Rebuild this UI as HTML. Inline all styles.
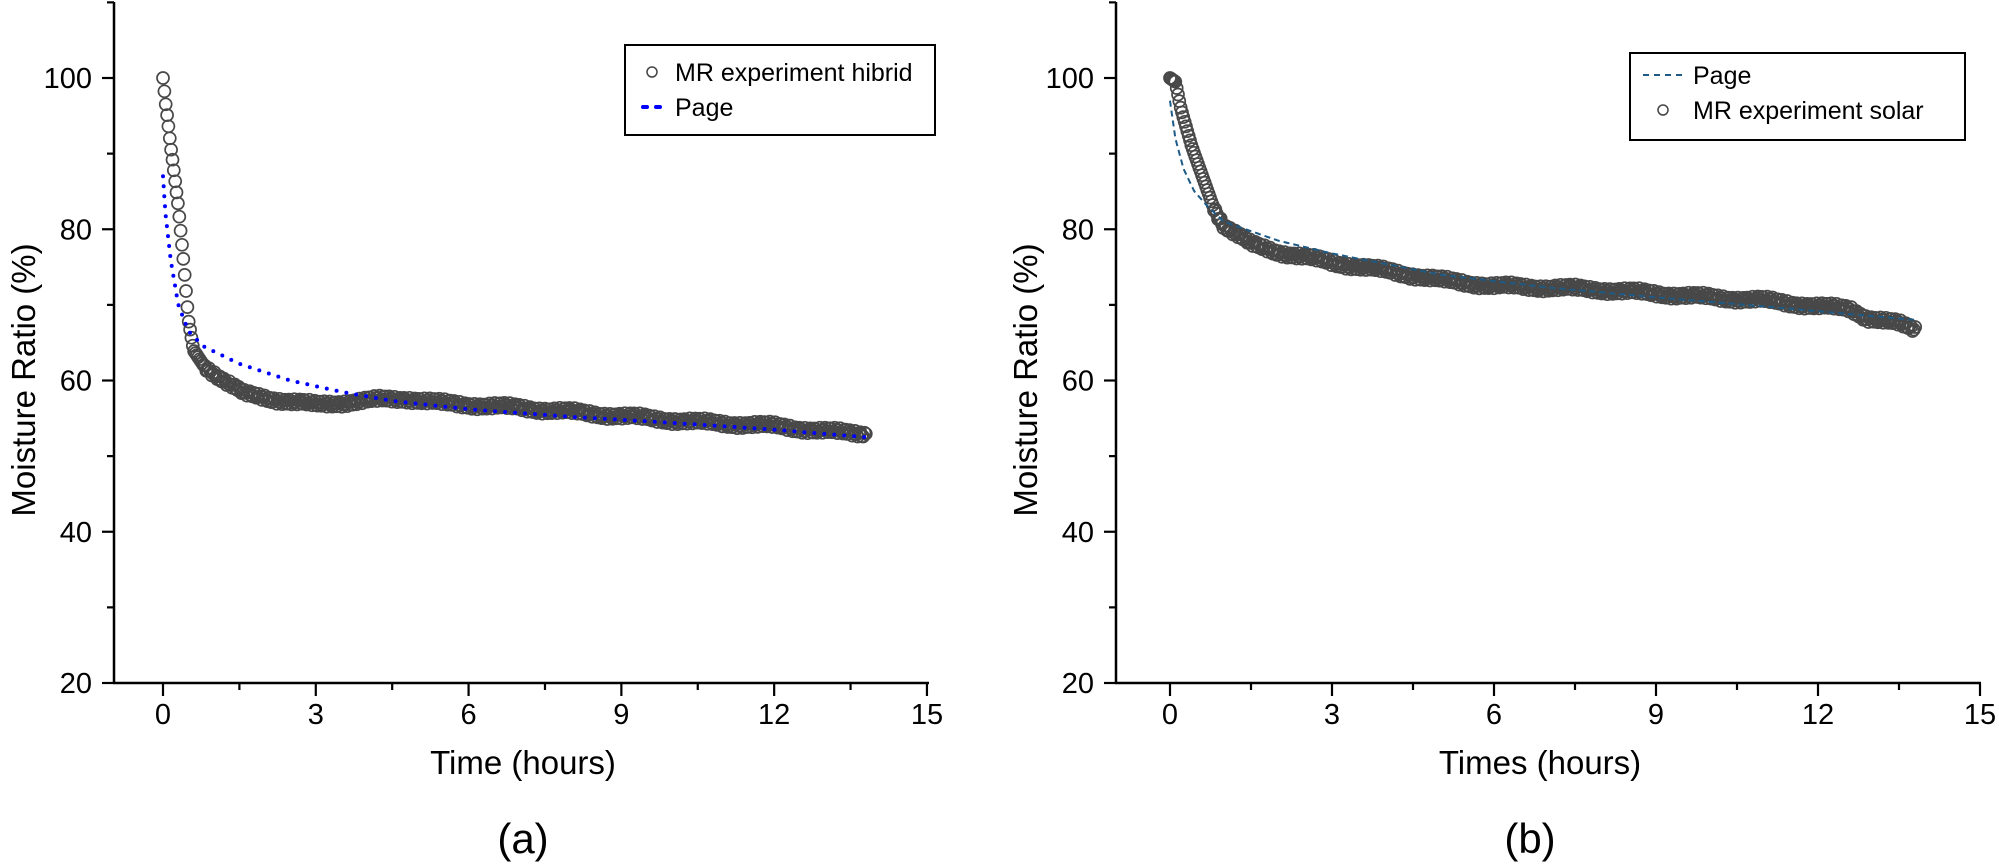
<!DOCTYPE html>
<html><head><meta charset="utf-8"><style>
body{margin:0;background:#fff;}
svg{display:block;font-family:"Liberation Sans",Arial,sans-serif;}
</style></head><body>
<svg id="s" width="1999" height="867" viewBox="0 0 1999 867" xmlns="http://www.w3.org/2000/svg">
<g stroke="#000" stroke-width="2.5" fill="none">
<line x1="114" y1="2" x2="114" y2="684"/>
<line x1="113" y1="683" x2="929" y2="683"/>
<line x1="1116" y1="2" x2="1116" y2="684"/>
<line x1="1115" y1="683" x2="1981" y2="683"/>
</g>
<g id="ticks" stroke="#000" stroke-width="2.2"></g>
<g id="lab" font-size="29" fill="#000" text-anchor="middle"></g>
<g id="data"></g>
<text x="523" y="774" font-size="33" text-anchor="middle">Time (hours)</text>
<text x="1540" y="774" font-size="33" text-anchor="middle">Times (hours)</text>
<text transform="translate(35,380) rotate(-90)" font-size="33" text-anchor="middle">Moisture Ratio (%)</text>
<text transform="translate(1037,380) rotate(-90)" font-size="33" text-anchor="middle">Moisture Ratio (%)</text>
<text x="523" y="853" font-size="42" text-anchor="middle">(a)</text>
<text x="1530" y="853" font-size="42" text-anchor="middle">(b)</text>
<rect x="625" y="45" width="310" height="90" fill="#fff" stroke="#000" stroke-width="2"/>
<circle cx="652" cy="72" r="5" fill="none" stroke="#444" stroke-width="1.5"/>
<text x="675" y="81" font-size="25">MR experiment hibrid</text>
<line x1="643" y1="107" x2="665" y2="107" stroke="#0000ff" stroke-width="4" stroke-dasharray="4 9" stroke-linecap="round"/>
<text x="675" y="116" font-size="25">Page</text>
<rect x="1630" y="53" width="335" height="87" fill="#fff" stroke="#000" stroke-width="2"/>
<line x1="1643" y1="75" x2="1682" y2="75" stroke="#1d5a85" stroke-width="2" stroke-dasharray="6 5"/>
<text x="1693" y="84" font-size="25">Page</text>
<circle cx="1663" cy="110" r="5" fill="none" stroke="#444" stroke-width="1.5"/>
<text x="1693" y="119" font-size="25">MR experiment solar</text>
</svg>
<script>
var NS="http://www.w3.org/2000/svg",T=document.getElementById('ticks'),L=document.getElementById('lab'),D=document.getElementById('data');
function el(p,t,a){var e=document.createElementNS(NS,t);for(var k in a)e.setAttribute(k,a[k]);p.appendChild(e);return e;}
function Y(v){return 683-(v-20)*7.5625;}
var plots=[{ax:114,x0:163,sx:50.93},{ax:1116,x0:1170,sx:54.0}];
plots.forEach(function(p){
 for(var v=20;v<=110;v+=10){var maj=v%20==0;el(T,'line',{x1:p.ax-(maj?12:7),x2:p.ax,y1:Y(v),y2:Y(v)});
  if(maj){var t=el(L,'text',{x:p.ax-22,y:Y(v)+10,'text-anchor':'end'});t.textContent=v;}}
 for(var i=0;i<=10;i++){var tt=i*1.5,x=p.x0+tt*p.sx,maj=i%2==0;el(T,'line',{x1:x,x2:x,y1:683,y2:683+(maj?13:7)});
  if(maj){var t=el(L,'text',{x:x,y:724});t.textContent=tt;}}
});
function interp(pts,t){for(var i=1;i<pts.length;i++){if(t<=pts[i][0]){var a=pts[i-1],b=pts[i];return a[1]+(b[1]-a[1])*(t-a[0])/(b[0]-a[0]);}}return pts[pts.length-1][1];}
function series(p,dat,fit,fitStyle,n){
 var d='';for(var i=0;i<=300;i++){var t=13.8*Math.pow(i/300,1.6);d+=(i?'L':'M')+(p.x0+t*p.sx).toFixed(1)+' '+Y(interp(fit,t)).toFixed(1);}
 for(var i=0;i<n;i++){var t=i*13.8/(n-1);var v=interp(dat,t)+(t>0.8?Math.sin(i*1.7)*0.35+Math.sin(i*0.13)*0.2:0);
  el(D,'circle',{cx:(p.x0+t*p.sx).toFixed(1),cy:Y(v).toFixed(1),r:6,fill:'none',stroke:'#484848','stroke-width':1.7});}
 var a=el(D,'path',{d:d,fill:'none'});for(var k in fitStyle)a.setAttribute(k,fitStyle[k]);
}
series(plots[0],[[0,100],[0.05,96.7],[0.1,94],[0.15,91],[0.2,88.5],[0.3,83],[0.4,76],[0.5,68],[0.6,64],[0.8,62],[1.2,60],[1.6,58.2],[2.2,57.5],[3,56.8],[3.4,57],[4.3,57.5],[4.8,57.6],[5.5,57],[7,56.4],[9,55.3],[10.5,54.5],[12,54],[13,53.3],[13.8,53]],
 [[0,87],[0.05,82],[0.15,76],[0.3,70],[0.5,66.5],[0.8,64.5],[1.5,62.2],[2.5,60],[3.5,58.5],[4.5,57.3],[6,56.2],[8,55.2],[10,54.4],[12,53.5],[13.8,52.5]],
 {stroke:'#0000ff','stroke-width':4,'stroke-dasharray':'0 10','stroke-linecap':'round'},520);
series(plots[1],[[0,100],[0.1,99.5],[0.2,96],[0.4,91],[0.6,87],[0.8,83],[1,80.5],[1.5,78],[2,77],[3,75.6],[4,74.5],[5,73.3],[6,72.5],[7,72.3],[8,72],[9,71.5],[10,71],[11,70.6],[12,69.8],[12.6,69.5],[12.9,68.3],[13.5,67.5],[13.8,66.8]],
 [[0,97],[0.1,92],[0.25,88],[0.45,85],[0.7,83],[1,81],[2,78.5],[3,76.8],[5,74],[7,72.3],[9,71],[11,69.8],[13.8,68]],
 {stroke:'#1d5a85','stroke-width':2,'stroke-dasharray':'6 4'},560);
</script>
</body></html>
